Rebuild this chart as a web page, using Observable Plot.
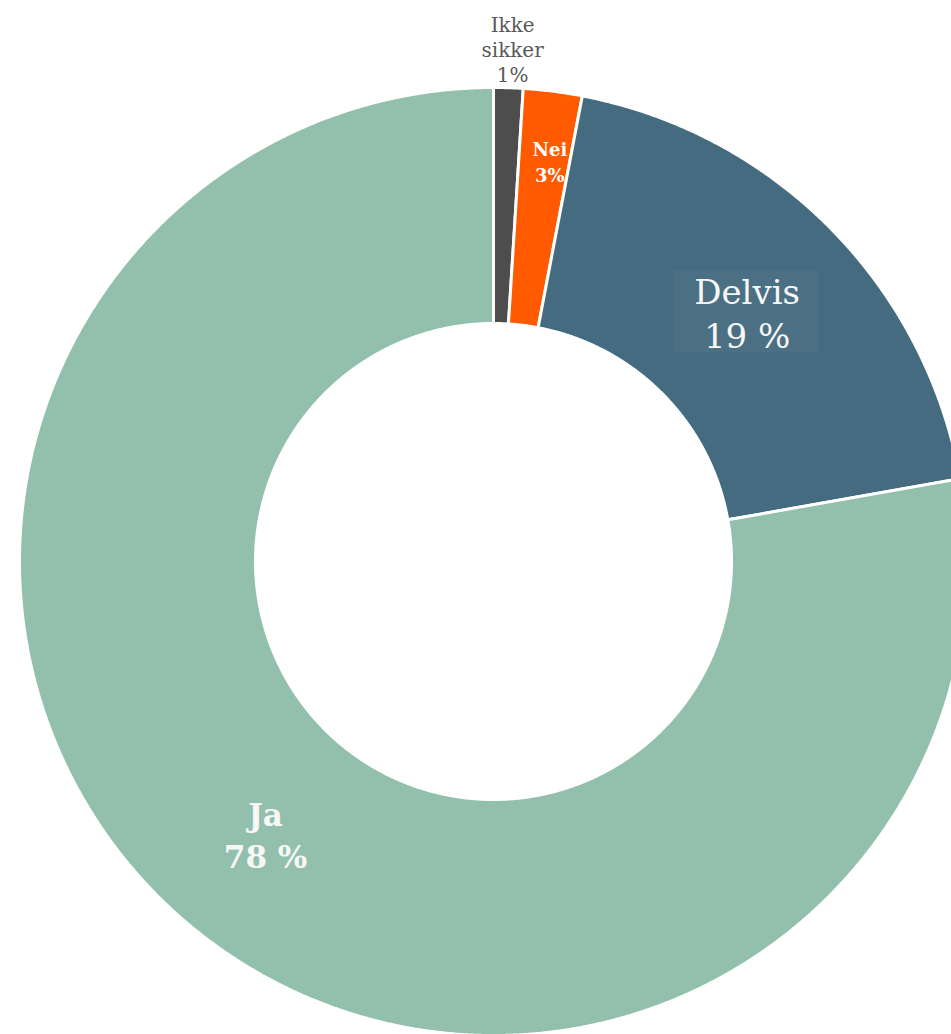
<!DOCTYPE html>
<html>
<head>
<meta charset="utf-8">
<script src="https://cdn.jsdelivr.net/npm/d3@7"></script>
<script src="https://cdn.jsdelivr.net/npm/@observablehq/plot@0.6"></script>
<style>
  html, body { margin: 0; padding: 0; background: #ffffff; }
  #chart svg { display: block; }
</style>
</head>
<body>
<div id="chart"></div>
<script>
// ---- data ----
const categories = ["Ikke sikker", "Nei", "Delvis", "Ja"];
const values = [1.0, 2.0, 19.2, 77.8];
const labels = ["Ikke\nsikker\n1%", "Nei\n3%", "Delvis\n19 %", "Ja\n78 %"];
const colors = ["#4d4d4d", "#ff5a00", "#456b80", "#93c0ad"];

// ---- layout ----
const W = 951, H = 1034;
const cx = 493, cy = 561;      // centre in px
const R = 474;                 // outer radius px
const rIn = 238 / R;           // inner radius (unit)
const rOut = 1;

const pie = d3.pie().sort(null).value(d => d)(values);

function arcPoints(a0, a1) {
  const pts = [];
  const n = Math.max(2, Math.ceil((a1 - a0) / (Math.PI / 720)));
  for (let i = 0; i <= n; i++) {
    const a = a0 + (a1 - a0) * i / n;
    pts.push({x: rOut * Math.sin(a), y: rOut * Math.cos(a)});
  }
  for (let i = n; i >= 0; i--) {
    const a = a0 + (a1 - a0) * i / n;
    pts.push({x: rIn * Math.sin(a), y: rIn * Math.cos(a)});
  }
  return pts;
}

const slices = pie.map((p, i) => ({
  category: categories[i],
  color: colors[i],
  label: labels[i],
  mid: (p.startAngle + p.endAngle) / 2,
  points: arcPoints(p.startAngle, p.endAngle)
}));

// label radius (px) and style per slice
const labelStyle = [
  {r: 513, size: 20, weight: "normal", fill: "#595959", lh: 1.25, dx: 3, dy: 0},
  {r: 402, size: 18, weight: "bold", fill: "#ffffff", lh: 1.45, dx: 6, dy: -2},
  {r: 355, size: 34, weight: "normal", fill: "#f7f7f7", lh: 1.3, dx: 1, dy: 0},
  {r: 355, size: 31, weight: "bold", fill: "#f7f7f7", lh: 1.35, dx: 0, dy: 0}
];

function pos(s, i) {
  const rr = labelStyle[i].r / R;
  return {x: rr * Math.sin(s.mid), y: rr * Math.cos(s.mid), label: s.label};
}

const marks = [];
slices.forEach(s => {
  marks.push(Plot.line(s.points, {
    x: "x", y: "y", curve: "linear-closed",
    fill: s.color, stroke: "#ffffff", strokeWidth: 3, strokeLinejoin: "miter"
  }));
});

// subtle box behind Delvis label
const dp = pos(slices[2], 2);
marks.push(Plot.rect([dp], {
  x1: d => d.x - 73 / R, x2: d => d.x + 73 / R,
  y1: d => d.y - 41 / R, y2: d => d.y + 41 / R,
  fill: "#ffffff", fillOpacity: 0.035
}));

slices.forEach((s, i) => {
  const st = labelStyle[i];
  marks.push(Plot.text([pos(s, i)], {
    x: "x", y: "y", text: "label",
    fontSize: st.size, fontWeight: st.weight, fill: st.fill,
    lineHeight: st.lh, lineAnchor: "middle", textAnchor: "middle",
    dx: st.dx, dy: st.dy,
    fontFamily: "DejaVu Serif"
  }));
});

const chart = Plot.plot({
  width: W, height: H,
  margin: 0,
  style: {background: "#ffffff", fontFamily: "DejaVu Serif"},
  x: {domain: [-cx / R, (W - cx) / R], axis: null},
  y: {domain: [-(H - cy) / R, cy / R], axis: null},
  marks
});
document.getElementById("chart").appendChild(chart);
</script>
</body>
</html>
